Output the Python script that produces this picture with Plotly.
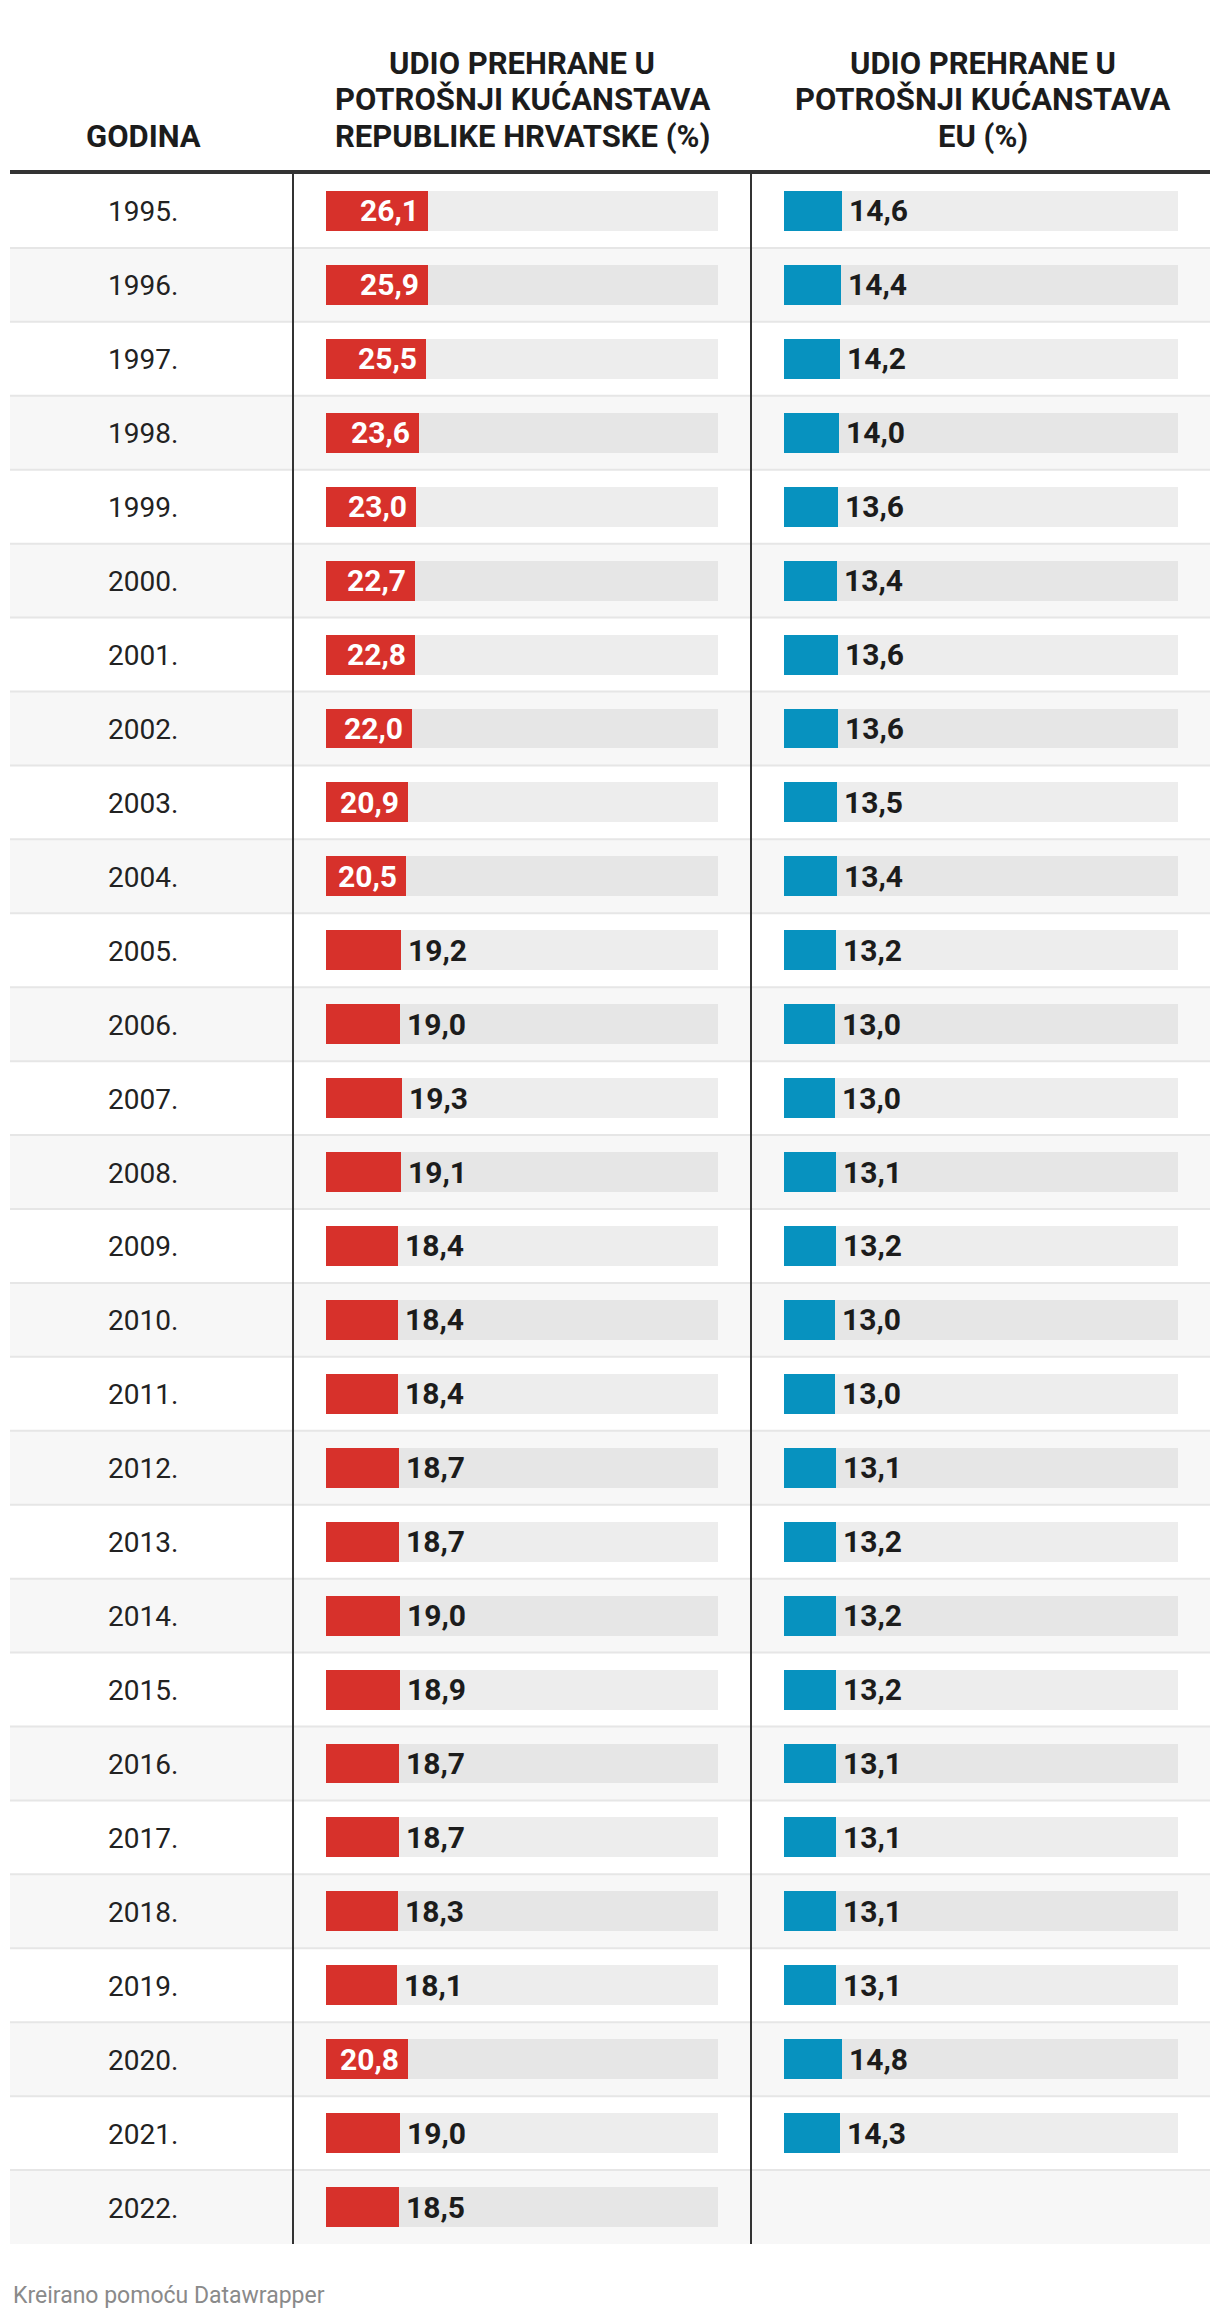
import plotly.graph_objects as go

# ---------------- data ----------------
years = ["1995.", "1996.", "1997.", "1998.", "1999.", "2000.", "2001.", "2002.",
         "2003.", "2004.", "2005.", "2006.", "2007.", "2008.", "2009.", "2010.",
         "2011.", "2012.", "2013.", "2014.", "2015.", "2016.", "2017.", "2018.",
         "2019.", "2020.", "2021.", "2022."]
hr_values = [26.1, 25.9, 25.5, 23.6, 23.0, 22.7, 22.8, 22.0, 20.9, 20.5,
             19.2, 19.0, 19.3, 19.1, 18.4, 18.4, 18.4, 18.7, 18.7, 19.0,
             18.9, 18.7, 18.7, 18.3, 18.1, 20.8, 19.0, 18.5]
eu_values = [14.6, 14.4, 14.2, 14.0, 13.6, 13.4, 13.6, 13.6, 13.5, 13.4,
             13.2, 13.0, 13.0, 13.1, 13.2, 13.0, 13.0, 13.1, 13.2, 13.2,
             13.2, 13.1, 13.1, 13.1, 13.1, 14.8, 14.3, None]
header_year = "GODINA"
header_hr = ["UDIO PREHRANE U", "POTROŠNJI KUĆANSTAVA", "REPUBLIKE HRVATSKE (%)"]
header_eu = ["UDIO PREHRANE U", "POTROŠNJI KUĆANSTAVA", "EU (%)"]
footer_text = "Kreirano pomoću Datawrapper"
scale_max = 100

# ---------------- style ----------------
PAGE_MARGIN = 8            # default body margin of the html page
W, H = 1220 - 2 * PAGE_MARGIN, 2320 - 2 * PAGE_MARGIN
RED = "#d7312b"
BLUE = "#0792bf"
TRACK_WHITE = "#ededed"
TRACK_GRAY = "#e6e6e6"
STRIPE = "#f7f7f7"
SEP = "#e6e6e6"
DARK = "#333333"
TEXT = "#1c1c1c"
FONT = "Roboto"
BAR_W = 0.54


def px(v):
    return (v - PAGE_MARGIN) / W


def py(v):
    return 1 - (v - PAGE_MARGIN) / H


def fmt(v):
    return f"{v:.1f}".replace(".", ",")


n = len(years)
striped = [i % 2 == 1 for i in range(n)]
track_colors = [TRACK_GRAY if s else TRACK_WHITE for s in striped]

eu_idx = [i for i, v in enumerate(eu_values) if v is not None]
eu_years = [years[i] for i in eu_idx]
eu_vals = [eu_values[i] for i in eu_idx]
eu_track_colors = [track_colors[i] for i in eu_idx]

fig = go.Figure()
common = dict(orientation="h", width=BAR_W, marker_line_width=0,
              hoverinfo="skip", showlegend=False)
fig.add_bar(x=[scale_max] * n, y=years, marker_color=track_colors,
            xaxis="x", yaxis="y", **common)
fig.add_bar(x=hr_values, y=years, marker_color=RED, xaxis="x", yaxis="y", **common)
fig.add_bar(x=[scale_max] * len(eu_years), y=eu_years, marker_color=eu_track_colors,
            xaxis="x2", yaxis="y", **common)
fig.add_bar(x=eu_vals, y=eu_years, marker_color=BLUE, xaxis="x2", yaxis="y", **common)
# invisible anchor trace so the year column axis exists
fig.add_scatter(x=[0.5] * n, y=years, mode="markers", marker_opacity=0,
                xaxis="x3", yaxis="y", hoverinfo="skip", showlegend=False)

annotations = []

# year labels (category axis positions given as row indices)
for i, yr in enumerate(years):
    annotations.append(dict(x=0.5, y=i, xref="x3", yref="y", text=yr,
                            showarrow=False, xanchor="center", yanchor="middle",
                            yshift=-1,
                            font=dict(family=FONT, size=28, color="#222222")))


def value_label(v, row, xref, threshold):
    inside = threshold is not None and v >= threshold
    annotations.append(dict(
        x=v, y=row, xref=xref, yref="y", text=f"<b>{fmt(v)}</b>", showarrow=False,
        xanchor="right" if inside else "left", yanchor="middle",
        xshift=-7 if inside else 5, yshift=0,
        font=dict(family=FONT, size=30, color="#ffffff" if inside else TEXT)))


for i, v in enumerate(hr_values):
    value_label(v, i, "x", 20.5)
for i in eu_idx:
    value_label(eu_values[i], i, "x2", None)

# headers
hdr_font = dict(family=FONT, size=31, color=TEXT)
line_centers = [63, 99, 136]
for col_x, lines in ((522, header_hr), (983, header_eu)):
    for txt, cy in zip(lines, line_centers):
        annotations.append(dict(x=px(col_x), y=py(cy), xref="paper", yref="paper",
                                text=f"<b>{txt}</b>", showarrow=False,
                                xanchor="center", yanchor="middle", font=hdr_font))
annotations.append(dict(x=px(143), y=py(136), xref="paper", yref="paper",
                        text=f"<b>{header_year}</b>", showarrow=False,
                        xanchor="center", yanchor="middle", font=hdr_font))
annotations.append(dict(x=px(11), y=py(2295), xref="paper", yref="paper",
                        text=footer_text, showarrow=False,
                        xanchor="left", yanchor="middle",
                        font=dict(family=FONT, size=23, color="#8a8a8a")))

shapes = []
for i, s in enumerate(striped):
    if s:
        shapes.append(dict(type="rect", xref="paper", yref="y",
                           x0=px(10), x1=px(1210), y0=i - 0.5, y1=i + 0.5,
                           fillcolor=STRIPE, line_width=0, layer="below"))
for i in range(1, n):
    shapes.append(dict(type="line", xref="paper", yref="y",
                       x0=px(10), x1=px(1210), y0=i - 0.5, y1=i - 0.5,
                       line=dict(color=SEP, width=2), layer="below"))
for xv in (293, 751):
    shapes.append(dict(type="line", xref="paper", yref="y",
                       x0=px(xv), x1=px(xv), y0=-0.5, y1=n - 0.5,
                       line=dict(color=DARK, width=2), layer="above"))
shapes.append(dict(type="line", xref="paper", yref="paper",
                   x0=px(10), x1=px(1210), y0=py(172), y1=py(172),
                   line=dict(color=DARK, width=4), layer="above"))

axis_off = dict(showgrid=False, zeroline=False, showticklabels=False,
                showline=False, ticks="", fixedrange=True)
fig.update_layout(
    width=W, height=H, autosize=False,
    margin=dict(l=0, r=0, t=0, b=0),
    paper_bgcolor="white", plot_bgcolor="rgba(0,0,0,0)",
    barmode="overlay", bargap=0,
    xaxis=dict(domain=[px(326), px(718)], range=[0, scale_max], anchor="y", **axis_off),
    xaxis2=dict(domain=[px(784), px(1178)], range=[0, scale_max], anchor="y", **axis_off),
    xaxis3=dict(domain=[px(10), px(276)], range=[0, 1], anchor="y", **axis_off),
    yaxis=dict(domain=[py(2244), py(174)], type="category",
               categoryorder="array", categoryarray=years,
               range=[n - 0.5, -0.5], **axis_off),
    annotations=annotations, shapes=shapes,
    font=dict(family=FONT),
)

fig.write_html("out.html")
